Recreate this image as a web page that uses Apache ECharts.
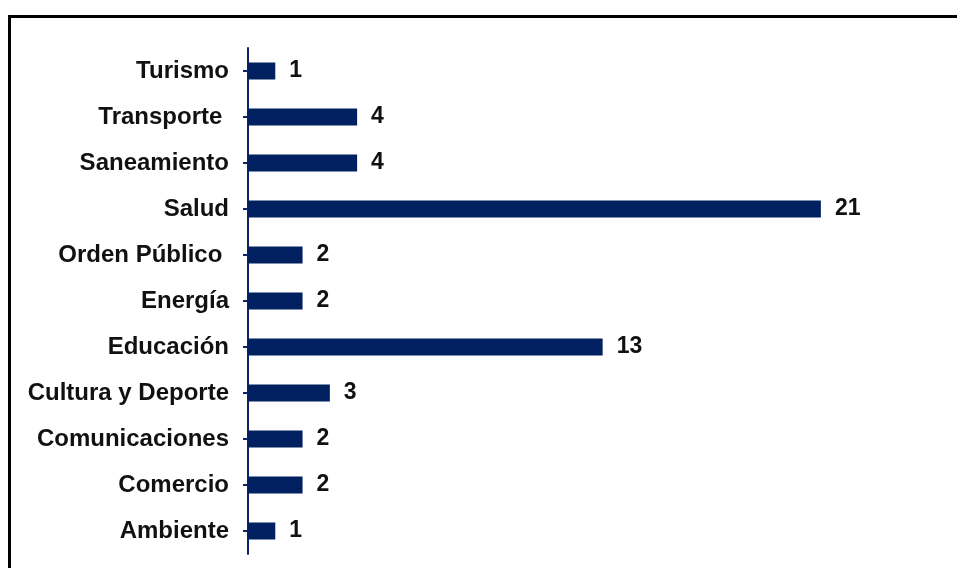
<!DOCTYPE html>
<html><head><meta charset="utf-8">
<script src="https://cdn.jsdelivr.net/npm/echarts@6/dist/echarts.min.js"></script>
<style>html,body{margin:0;padding:0;background:#fff;overflow:hidden}#c{width:957px;height:568px}
#frame{position:absolute;left:8px;top:15px;width:1000px;height:600px;border-left:3px solid #000;border-top:3px solid #000;box-sizing:border-box;pointer-events:none}</style>
</head><body><div id="c"></div><div id="frame"></div>
<script>
const categories = ["Ambiente","Comercio","Comunicaciones","Cultura y Deporte","Educación","Energía","Orden Público ","Salud","Saneamiento","Transporte ","Turismo"];
const values = [1,2,2,3,13,2,2,21,4,4,1];
const chart = echarts.init(document.getElementById('c'));
chart.setOption({
  animation:false,
  grid:{left:248,top:48,height:506,width:682},
  xAxis:{type:'value',min:0,max:25,show:false},
  yAxis:{type:'category',data:categories,
    axisLine:{show:true,lineStyle:{color:'#0b2566',width:2}},
    axisTick:{show:true,alignWithLabel:true,length:5,lineStyle:{color:'#0b2566',width:2}},
    axisLabel:{color:'#111',fontFamily:'Liberation Sans, Arial',fontWeight:'bold',fontSize:24,margin:19}},
  series:[{type:'bar',data:values,barWidth:17,itemStyle:{color:'#002060'},
    label:{show:true,position:'right',distance:14,color:'#111',fontFamily:'Liberation Sans, Arial',fontWeight:'bold',fontSize:23}}]
});
</script></body></html>
